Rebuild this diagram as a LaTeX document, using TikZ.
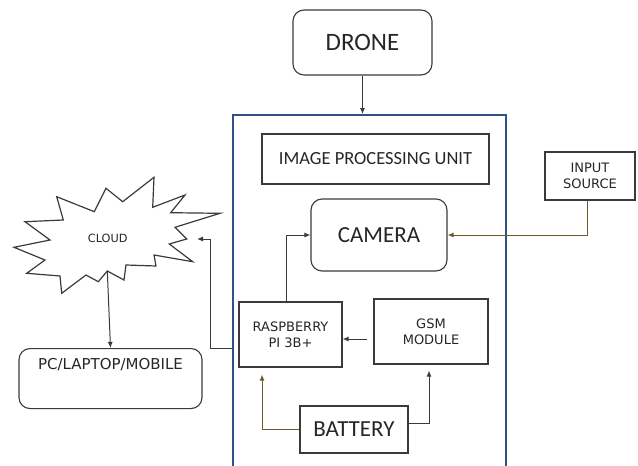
\documentclass[tikz,border=0pt]{standalone}
\usepackage{fontspec}
\setmainfont{Carlito}
\newfontfamily\verd{DejaVu Sans}
\usetikzlibrary{calc,arrows.meta}

\definecolor{boardblue}{HTML}{2F5286}
\definecolor{wire}{HTML}{3A3A3A}
\definecolor{olive}{HTML}{6B5A2B}

\begin{document}
\begin{tikzpicture}[>={Latex[length=6pt,width=5pt]}, x=1pt, y=-1pt,
    box/.style={draw=wire, line width=1.1pt, text=black!85, align=center, inner sep=0pt},
    rbox/.style={box, rounded corners=11pt},
    big/.style={font=\fontsize{23}{26}\selectfont},
    small/.style={font=\verd\fontsize{13}{16}\selectfont},
    link/.style={->, draw=wire, line width=1pt}]
\useasboundingbox (0,0) rectangle (638,466);
\clip (0,0) rectangle (638,466);

% controller board
\node[draw=boardblue, line width=2pt, minimum width=273, minimum height=360] (board) at (369.5,295) {};

\node[rbox, minimum width=139, minimum height=65, font=\fontsize{25}{28}\selectfont] (drone) at (362.5,42.5) {DRONE};
\node[box, minimum width=227, minimum height=50, font=\fontsize{18.5}{22}\selectfont] (ipu) at (375.5,159) {IMAGE PROCESSING UNIT};
\node[rbox, big, minimum width=136, minimum height=72] (camera) at (379,235) {CAMERA};
\node[box, small, minimum width=90, minimum height=48] (input) at (590,176) {INPUT\\SOURCE};
\node[box, small, minimum width=103, minimum height=65] (rpi) at (290.5,334.5) {RASPBERRY\\PI 3B+};
\node[box, small, minimum width=114, minimum height=65] (gsm) at (431,331.5) {GSM\\MODULE};
\node[box, big, minimum width=108, minimum height=47] (battery) at (354,429.5) {BATTERY};
\node[rbox, anchor=north, minimum width=183, inner ysep=6pt, text height=15pt, text depth=33pt,
      font=\verd\fontsize{15}{18}\selectfont] (pc) at (110.5,348) {PC/LAPTOP/MOBILE};

% cloud outline
\draw[wire, line width=1.2pt, line join=miter]
    (154,177.3) -- (152.7,207.3) -- (185,195) -- (170.7,212.7) -- (220,213.3)
    -- (175,227.3) -- (186.7,239) -- (169.3,244) -- (192.7,261.7) -- (154,255)
    -- (156,266) -- (126,265) -- (124,280) -- (107.3,271) coordinate (cloudtip)
    -- (98.3,281.7) -- (86,275) -- (61.7,293.3) -- (60,276) -- (26.7,273.3)
    -- (45,260) -- (14,247.3) -- (50,240) -- (25,221.7) -- (63.3,220)
    -- (56.7,196.7) -- (94.3,211.7) -- (106,188.3) -- (122.7,201.7) -- cycle;
\node[font=\verd\fontsize{11.3}{13}\selectfont, text=black!85] (cloud) at (107.7,238) {CLOUD};
\coordinate (cloudin) at (197,239);
\coordinate (rpiout) at (233,348);

\draw[link] (drone) -- (drone |- board.north);
\draw[link] ([xshift=-4.5pt]rpi.north) |- (camera);
\draw[link, draw=olive] ([xshift=-3pt]input.south) |- (camera);
\draw[link] ($(gsm.west)+(-6,7.5)$) -- ($(rpi.east)+(0,4.5)$);
\draw[link, draw=olive] (battery.west) -| ($(rpi.south)+(-28.5,7)$);
\draw[link] ($(battery.east)+(0,-6.5)$) -| ($(gsm.south)+(-2,6)$);
\draw[link] (rpiout) -- ++(-23,0) |- (cloudin);
\draw[link] (cloudtip) -- (pc.north);
\end{tikzpicture}
\end{document}
